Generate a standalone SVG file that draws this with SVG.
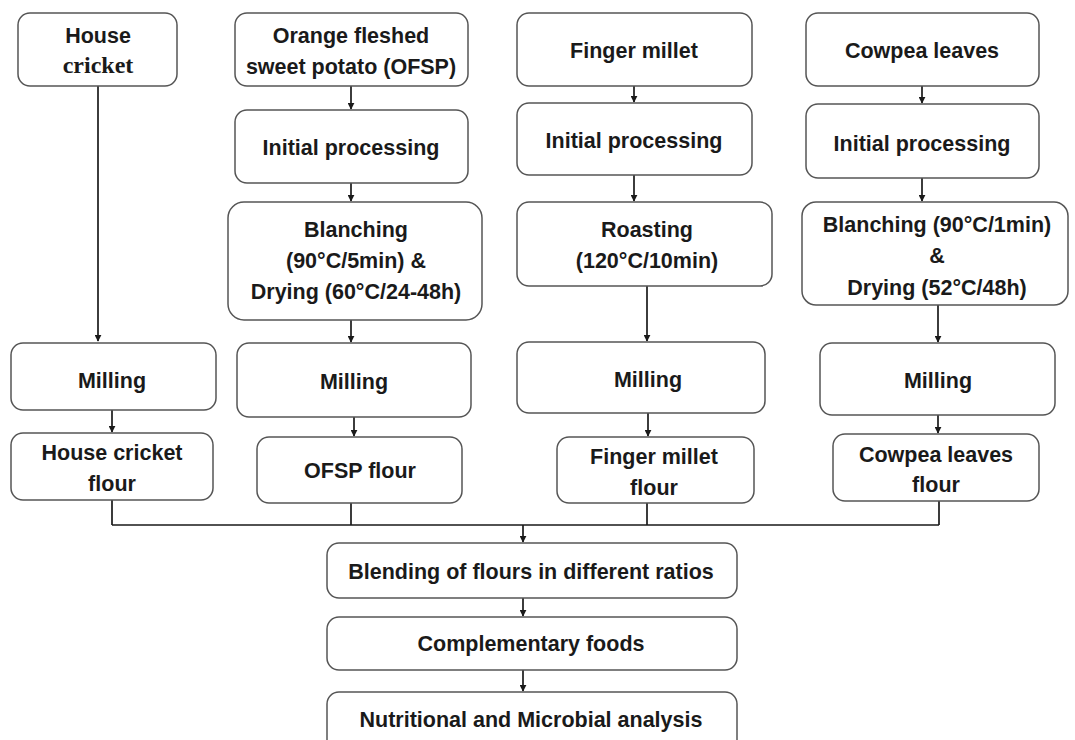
<svg xmlns="http://www.w3.org/2000/svg" width="1075" height="740" viewBox="0 0 1075 740">
<style>
.box{fill:#fff;stroke:#555;stroke-width:1.5}
.t{font-family:"Liberation Sans",Arial,sans-serif;font-weight:bold;font-size:21.5px;fill:#1a1a1a;text-anchor:middle}
.s{font-family:"Liberation Serif","Times New Roman",serif;font-weight:bold;font-size:24px;fill:#1a1a1a;text-anchor:middle}
.c{stroke:#1a1a1a;stroke-width:1.7;fill:none}
</style>
<defs>
<marker id="ah" viewBox="0 0 10 10" refX="9" refY="5" markerWidth="7" markerHeight="7" orient="auto" markerUnits="userSpaceOnUse"><path d="M0,0 L10,5 L0,10 z" fill="#1a1a1a"/></marker>
</defs>
<rect width="1075" height="740" fill="#fff"/>
<g id="connectors">
<path class="c" d="M98,86 V341" marker-end="url(#ah)"/>
<path class="c" d="M351,86 V109" marker-end="url(#ah)"/>
<path class="c" d="M351,183 V201" marker-end="url(#ah)"/>
<path class="c" d="M351,320 V342" marker-end="url(#ah)"/>
<path class="c" d="M634,86 V102" marker-end="url(#ah)"/>
<path class="c" d="M634,175 V201" marker-end="url(#ah)"/>
<path class="c" d="M647,286 V341" marker-end="url(#ah)"/>
<path class="c" d="M922,86 V103" marker-end="url(#ah)"/>
<path class="c" d="M922,178 V201" marker-end="url(#ah)"/>
<path class="c" d="M938,305 V342" marker-end="url(#ah)"/>
<path class="c" d="M112,410 V432" marker-end="url(#ah)"/>
<path class="c" d="M354,417 V436" marker-end="url(#ah)"/>
<path class="c" d="M648,413 V436" marker-end="url(#ah)"/>
<path class="c" d="M938,415 V433" marker-end="url(#ah)"/>
<path class="c" d="M112,500 V525 M351,503 V525 M647,503 V525 M939,501 V525 M112,525 H939"/>
<path class="c" d="M523,525 V542" marker-end="url(#ah)"/>
<path class="c" d="M523,598 V616" marker-end="url(#ah)"/>
<path class="c" d="M523,670 V691" marker-end="url(#ah)"/>
</g>
<g id="house-cricket"><rect class="box" x="18" y="13" width="159" height="73" rx="12"/><text class="t" x="98" y="43">House</text><text class="s" x="98" y="73">cricket</text></g>
<g id="ofsp"><rect class="box" x="235" y="13" width="233" height="73" rx="12"/><text class="t" x="351" y="43">Orange fleshed</text><text class="t" x="351" y="74">sweet potato (OFSP)</text></g>
<g id="ofsp-initial"><rect class="box" x="235" y="110" width="233" height="73" rx="12"/><text class="t" x="351" y="155">Initial processing</text></g>
<g id="ofsp-blanching"><rect class="box" x="228" y="202" width="254" height="118" rx="16"/><text class="t" x="356" y="237">Blanching</text><text class="t" x="356" y="268">(90°C/5min) &amp;</text><text class="t" x="356" y="299">Drying (60°C/24-48h)</text></g>
<g id="finger-millet"><rect class="box" x="517" y="13" width="235" height="73" rx="12"/><text class="t" x="634" y="58">Finger millet</text></g>
<g id="fm-initial"><rect class="box" x="517" y="103" width="235" height="72" rx="12"/><text class="t" x="634" y="148">Initial processing</text></g>
<g id="fm-roasting"><rect class="box" x="517" y="202" width="255" height="84" rx="12"/><text class="t" x="647" y="237">Roasting</text><text class="t" x="647" y="268">(120°C/10min)</text></g>
<g id="cowpea"><rect class="box" x="806" y="13" width="233" height="73" rx="12"/><text class="t" x="922" y="58">Cowpea leaves</text></g>
<g id="cl-initial"><rect class="box" x="806" y="104" width="233" height="74" rx="12"/><text class="t" x="922" y="151">Initial processing</text></g>
<g id="cl-blanching"><rect class="box" x="802" y="202" width="266" height="103" rx="14"/><text class="t" x="937" y="232">Blanching (90°C/1min)</text><text class="t" x="937" y="263">&amp;</text><text class="t" x="937" y="295">Drying (52°C/48h)</text></g>
<g id="hc-milling"><rect class="box" x="11" y="343" width="205" height="67" rx="12"/><text class="t" x="112" y="388">Milling</text></g>
<g id="hc-flour"><rect class="box" x="11" y="433" width="202" height="67" rx="12"/><text class="t" x="112" y="460">House cricket</text><text class="t" x="112" y="491">flour</text></g>
<g id="ofsp-milling"><rect class="box" x="237" y="343" width="234" height="74" rx="12"/><text class="t" x="354" y="389">Milling</text></g>
<g id="ofsp-flour"><rect class="box" x="257" y="437" width="205" height="66" rx="12"/><text class="t" x="360" y="478">OFSP flour</text></g>
<g id="fm-milling"><rect class="box" x="517" y="342" width="248" height="71" rx="12"/><text class="t" x="648" y="387">Milling</text></g>
<g id="fm-flour"><rect class="box" x="557" y="437" width="197" height="66" rx="12"/><text class="t" x="654" y="464">Finger millet</text><text class="t" x="654" y="495">flour</text></g>
<g id="cl-milling"><rect class="box" x="820" y="343" width="235" height="72" rx="12"/><text class="t" x="938" y="388">Milling</text></g>
<g id="cl-flour"><rect class="box" x="833" y="434" width="206" height="67" rx="12"/><text class="t" x="936" y="462">Cowpea leaves</text><text class="t" x="936" y="492">flour</text></g>
<g id="blending"><rect class="box" x="327" y="543" width="410" height="55" rx="12"/><text class="t" x="531" y="579">Blending of flours in different ratios</text></g>
<g id="complementary"><rect class="box" x="327" y="617" width="410" height="53" rx="12"/><text class="t" x="531" y="651">Complementary foods</text></g>
<g id="analysis"><rect class="box" x="327" y="692" width="410" height="60" rx="12"/><text class="t" x="531" y="727">Nutritional and Microbial analysis</text></g>
</svg>
